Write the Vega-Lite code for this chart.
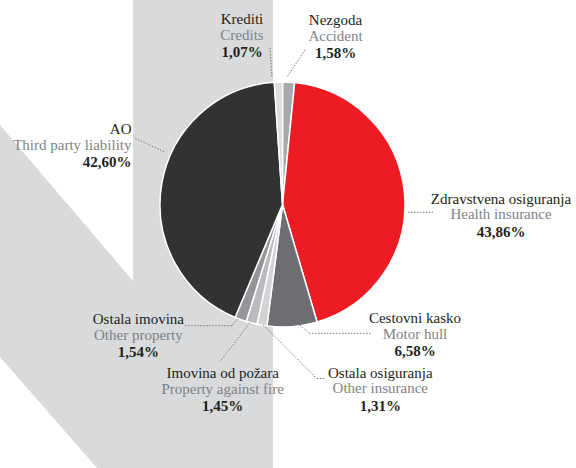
{
  "$schema": "https://vega.github.io/schema/vega-lite/v6.json",
  "width": 565,
  "height": 409,
  "autosize": {"type": "none"},
  "padding": {"left": 0, "top": 0, "right": 11, "bottom": 59},
  "background": "#ffffff",
  "config": {
    "view": {"stroke": null},
    "locale": {"number": {"decimal": ",", "thousands": ".", "grouping": [3], "currency": ["", ""]}}
  },
  "datasets": {
    "band": [
      {"x": 133, "x2": 273, "y": 0, "y2": 468}
    ],
    "diagonal": [
      {"x": 0, "y": 125, "y2": 357},
      {"x": 97, "y": 238.8, "y2": 468},
      {"x": 134, "y": 282.2, "y2": 468}
    ],
    "slices": [
      {"rank": 1, "cat": "Nezgoda", "en": "Accident", "share": 0.0158, "lx": 335.5, "ly": 25},
      {"rank": 2, "cat": "Zdravstvena osiguranja", "en": "Health insurance", "share": 0.4386, "lx": 501, "ly": 203.5},
      {"rank": 3, "cat": "Cestovni kasko", "en": "Motor hull", "share": 0.0658, "lx": 415, "ly": 322.7},
      {"rank": 4, "cat": "Ostala osiguranja", "en": "Other insurance", "share": 0.0131, "lx": 380.3, "ly": 377.5},
      {"rank": 5, "cat": "Imovina od požara", "en": "Property against fire", "share": 0.0145, "lx": 222.7, "ly": 378.3},
      {"rank": 6, "cat": "Ostala imovina", "en": "Other property", "share": 0.0154, "lx": 138.4, "ly": 324},
      {"rank": 7, "cat": "AO", "en": "Third party liability", "share": 0.4260, "lx": 131.5, "ly": 134.3},
      {"rank": 8, "cat": "Krediti", "en": "Credits", "share": 0.0107, "lx": 242, "ly": 24.3}
    ],
    "leaders": [
      {"cat": "Krediti", "x": 270, "y": 48, "x2": 272, "y2": 77},
      {"cat": "Nezgoda", "x": 305, "y": 50, "x2": 287, "y2": 77},
      {"cat": "Zdravstvena osiguranja", "x": 408, "y": 212.3, "x2": 433, "y2": 212.3},
      {"cat": "Cestovni kasko", "x": 300, "y": 325, "x2": 309, "y2": 333.3},
      {"cat": "Cestovni kasko", "x": 309, "y": 333.3, "x2": 371, "y2": 333.3},
      {"cat": "Ostala osiguranja", "x": 263.3, "y": 325, "x2": 316.7, "y2": 378.5},
      {"cat": "Ostala osiguranja", "x": 316.7, "y": 378.5, "x2": 325, "y2": 378.5},
      {"cat": "Imovina od požara", "x": 250, "y": 322.7, "x2": 220, "y2": 361.7},
      {"cat": "Ostala imovina", "x": 237.3, "y": 319.3, "x2": 231.7, "y2": 325.7},
      {"cat": "Ostala imovina", "x": 231.7, "y": 325.7, "x2": 185, "y2": 325.7},
      {"cat": "AO", "x": 164, "y": 151.7, "x2": 135, "y2": 138.3}
    ]
  },
  "layer": [
    {
      "data": {"name": "band"},
      "mark": {"type": "rect", "color": "#d9dadc"},
      "encoding": {
        "x": {"field": "x", "type": "quantitative", "scale": {"domain": [0, 565], "nice": false, "zero": false}, "axis": null},
        "y": {"field": "y", "type": "quantitative", "scale": {"domain": [0, 409], "nice": false, "zero": false, "reverse": true}, "axis": null},
        "x2": {"field": "x2"},
        "y2": {"field": "y2"}
      }
    },
    {
      "data": {"name": "diagonal"},
      "mark": {"type": "area", "color": "#d9dadc", "orient": "vertical"},
      "encoding": {
        "x": {"field": "x", "type": "quantitative", "scale": {"domain": [0, 565], "nice": false, "zero": false}, "axis": null},
        "y": {"field": "y", "type": "quantitative", "stack": null, "scale": {"domain": [0, 409], "nice": false, "zero": false, "reverse": true}, "axis": null},
        "y2": {"field": "y2"}
      }
    },
    {
      "data": {"name": "slices"},
      "mark": {"type": "arc", "outerRadius": 122.5, "stroke": "#ffffff", "strokeWidth": 1.5},
      "encoding": {
        "theta": {"field": "share", "type": "quantitative", "stack": true},
        "color": {
          "field": "cat", "type": "nominal", "legend": null,
          "scale": {
            "domain": ["Nezgoda", "Zdravstvena osiguranja", "Cestovni kasko", "Ostala osiguranja", "Imovina od požara", "Ostala imovina", "AO", "Krediti"],
            "range": ["#a7a9ac", "#ed1c24", "#6d6e71", "#d1d3d4", "#b9bbbe", "#939598", "#333132", "#dcddde"]
          }
        },
        "order": {"field": "rank", "type": "quantitative"}
      }
    },
    {
      "data": {"name": "leaders"},
      "mark": {"type": "rule", "color": "#77787b", "strokeWidth": 1, "strokeDash": [1.5, 1.5]},
      "encoding": {
        "x": {"field": "x", "type": "quantitative", "scale": {"domain": [0, 565], "nice": false, "zero": false}, "axis": null},
        "y": {"field": "y", "type": "quantitative", "scale": {"domain": [0, 409], "nice": false, "zero": false, "reverse": true}, "axis": null},
        "x2": {"field": "x2"},
        "y2": {"field": "y2"}
      }
    },
    {
      "data": {"name": "slices"},
      "mark": {"type": "text", "font": "Liberation Serif, Times New Roman, DejaVu Serif, serif", "fontSize": 15, "baseline": "alphabetic", "color": "#231f20", "align": {"expr": "datum.cat === 'AO' ? 'right' : 'center'"}},
      "encoding": {
        "x": {"field": "lx", "type": "quantitative", "scale": {"domain": [0, 565], "nice": false, "zero": false}, "axis": null},
        "y": {"field": "ly", "type": "quantitative", "scale": {"domain": [0, 409], "nice": false, "zero": false, "reverse": true}, "axis": null},
        "text": {"field": "cat", "type": "nominal"}
      }
    },
    {
      "data": {"name": "slices"},
      "mark": {"type": "text", "font": "Liberation Serif, Times New Roman, DejaVu Serif, serif", "fontSize": 15, "baseline": "alphabetic", "color": "#808285", "dy": 15.8, "align": {"expr": "datum.cat === 'AO' ? 'right' : 'center'"}},
      "encoding": {
        "x": {"field": "lx", "type": "quantitative", "scale": {"domain": [0, 565], "nice": false, "zero": false}, "axis": null},
        "y": {"field": "ly", "type": "quantitative", "scale": {"domain": [0, 409], "nice": false, "zero": false, "reverse": true}, "axis": null},
        "text": {"field": "en", "type": "nominal"}
      }
    },
    {
      "data": {"name": "slices"},
      "mark": {"type": "text", "font": "Liberation Serif, Times New Roman, DejaVu Serif, serif", "fontSize": 15, "baseline": "alphabetic", "color": "#231f20", "fontWeight": "bold", "dy": 33.1, "align": {"expr": "datum.cat === 'AO' ? 'right' : 'center'"}},
      "encoding": {
        "x": {"field": "lx", "type": "quantitative", "scale": {"domain": [0, 565], "nice": false, "zero": false}, "axis": null},
        "y": {"field": "ly", "type": "quantitative", "scale": {"domain": [0, 409], "nice": false, "zero": false, "reverse": true}, "axis": null},
        "text": {"field": "share", "type": "quantitative", "format": ".2%"}
      }
    }
  ]
}
